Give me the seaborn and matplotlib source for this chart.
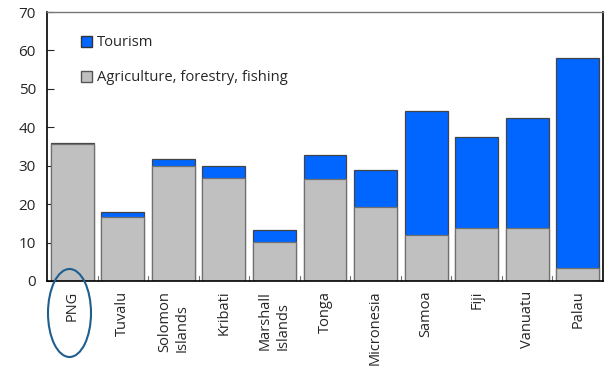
import matplotlib
matplotlib.use("Agg")
import matplotlib.pyplot as plt
import seaborn as sns
import numpy as np
from matplotlib.patches import Patch, Ellipse
from matplotlib.transforms import ScaledTranslation

countries = ["PNG", "Tuvalu", "Solomon\nIslands", "Kribati", "Marshall\nIslands", "Tonga",
             "Micronesia", "Samoa", "Fiji", "Vanuatu", "Palau"]
agriculture = [35.7, 16.6, 30.0, 26.8, 10.1, 26.5, 19.2, 12.1, 13.9, 13.7, 3.3]
tourism = [0.3, 1.3, 1.7, 3.1, 3.3, 6.2, 9.6, 32.1, 23.7, 28.6, 54.6]
yticks = [0, 10, 20, 30, 40, 50, 60, 70]

total = [a + t for a, t in zip(agriculture, tourism)]

sns.set_style("white")
plt.rcParams['font.family'] = ['Open Sans', 'DejaVu Sans']

fig = plt.figure(figsize=(6.05, 3.71), dpi=100)
ax = fig.add_axes([47/605, 1 - 281/371, 556/605, 269/371])

blue = "#0066FF"
grey = "#C0C0C0"
sns.barplot(x=countries, y=total, color=blue, width=0.85, edgecolor="#444444",
            linewidth=0.9, saturation=1, ax=ax)
sns.barplot(x=countries, y=agriculture, color=grey, width=0.85, edgecolor="#707070",
            linewidth=0.9, saturation=1, ax=ax)

ax.set_ylim(0, 70)
ax.set_xlim(-0.5, len(countries) - 0.5)
ax.set_yticks(yticks)
ax.set_yticklabels([str(v) for v in yticks], fontsize=11)
ax.set_xticks(range(len(countries)))
ax.set_xticklabels(countries, rotation=90, fontsize=10.5, va="top", ha="center",
                   multialignment="left", linespacing=1.25)
offset = ScaledTranslation(3/100, 0, fig.dpi_scale_trans)
for lbl in ax.get_xticklabels():
    lbl.set_transform(lbl.get_transform() + offset)
ax.tick_params(axis="x", length=0, pad=7)
ax.tick_params(axis="y", direction="in", length=5, width=0.8, left=True, pad=8)
for xb in np.arange(0.5, len(countries) - 0.5, 1.0):
    ax.plot([xb, xb], [0, 1.2], color="#707070", lw=0.8, clip_on=False)

for side in ["left", "bottom", "right"]:
    ax.spines[side].set_color("black")
    ax.spines[side].set_linewidth(1.2)
ax.spines["top"].set_color("#777777")
ax.spines["top"].set_linewidth(1.0)
ax.set_xlabel("")
ax.set_ylabel("")

handles = [Patch(facecolor=blue, edgecolor="#333333", label="Tourism"),
           Patch(facecolor=grey, edgecolor="#555555", label="Agriculture, forestry, fishing")]
ax.legend(handles=handles, loc="upper left", bbox_to_anchor=(0.05, 0.935), frameon=False,
          fontsize=10.6, handlelength=0.8, handleheight=0.8, handletextpad=0.3,
          labelspacing=1.35, borderaxespad=0)

ell = Ellipse((69.5/605, 1 - 313/371), 43/605, 88/371, transform=fig.transFigure,
              fill=False, edgecolor="#1F5F8F", lw=1.5, clip_on=False)
fig.add_artist(ell)

fig.savefig("out.png", dpi=100)
